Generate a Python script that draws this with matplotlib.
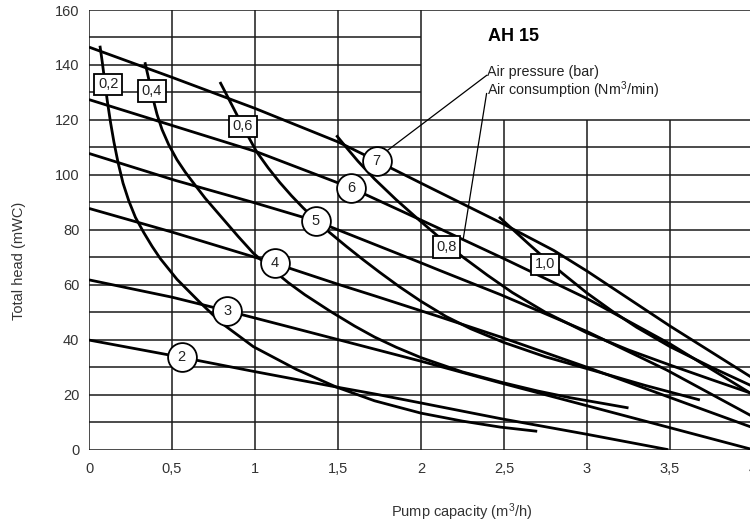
import numpy as np
import matplotlib
matplotlib.use("Agg")
import matplotlib.pyplot as plt

plt.rcParams['font.family'] = ['Liberation Sans', 'DejaVu Sans']
plt.rcParams['mathtext.fontset'] = 'custom'
plt.rcParams['mathtext.rm'] = 'Liberation Sans'
plt.rcParams['mathtext.it'] = 'Liberation Sans'

# ---------------------------------------------------------
# DATA
# ---------------------------------------------------------

# air pressure lines (bar)
p2_x = [0, 0.56, 1.0, 1.5, 1.72, 2.0, 2.48, 3.0, 3.49]
p2_y = [39.9, 33.6, 28.4, 22.7, 20.3, 17.0, 11.3, 5.6, 0]
p3_x = [0, 0.5, 0.835, 1.25, 1.72, 2.0, 2.48, 3.0, 3.5, 4.0]
p3_y = [61.8, 55.5, 50.5, 44.0, 36.6, 32.2, 24.3, 16.0, 8.0, 0]
p4_x = [0, 0.5, 0.99, 1.12, 1.5, 1.72, 2.11, 2.48, 3.0, 3.5, 4.0]
p4_y = [87.8, 79.2, 70.2, 67.8, 60.2, 56.0, 48.4, 41.0, 30.0, 19.0, 8.0]
p5_x = [0, 0.52, 1.0, 1.367, 1.5, 2.0, 2.11, 2.48, 3.0, 3.48, 4.0]
p5_y = [107.8, 98.0, 89.8, 83.2, 80.0, 68.0, 65.3, 56.4, 43.0, 29.0, 12.0]
p6_x = [0, 0.5, 1.01, 1.578, 2.11, 2.5, 3.0, 3.5, 4.0]
p6_y = [127.4, 118.0, 108.4, 95.3, 80.5, 69.5, 55.0, 38.5, 20.0]
p7_x = [0, 0.5, 1.0, 1.5, 1.733, 2.0, 2.5, 2.8, 3.0, 3.25, 3.5, 3.75, 4.0]
p7_y = [146.5, 135.5, 124.2, 112.0, 105.1, 97.0, 82.0, 72.5, 65.0, 55.0, 45.0, 35.5, 26.0]

# air consumption curves (Nm3/min)
c02_x = [0.066, 0.08, 0.095, 0.11, 0.13, 0.15, 0.175, 0.205, 0.24, 0.28, 0.33, 0.38,
         0.43, 0.53, 0.67, 0.8, 0.99, 1.25, 1.49, 1.72, 2.0, 2.25, 2.48, 2.70]
c02_y = [147, 141, 134, 127, 119, 112, 104.5, 97, 90.5, 84.5, 79, 74,
         69.5, 62, 53.5, 46, 37.5, 29.2, 22.8, 17.8, 13.3, 10.4, 8.2, 6.7]
c04_x = [0.337, 0.35, 0.365, 0.38, 0.395, 0.41, 0.44, 0.48, 0.53, 0.58, 0.62, 0.7,
         0.8, 0.9, 0.99, 1.1, 1.2, 1.3, 1.45, 1.6, 1.72, 1.85, 2.0, 2.25, 2.48, 2.7,
         2.9, 3.1, 3.25]
c04_y = [141, 137.5, 133.5, 129.5, 125.5, 122, 116.5, 111, 105.5, 101, 97.8, 91.5,
         84.5, 77.5, 71.5, 65.8, 60.8, 56.4, 50.5, 45, 41, 37.3, 33.5, 28.3, 24.6, 21.4,
         18.9, 16.8, 15.2]
c06_x = [0.789, 0.82, 0.86, 0.9, 0.95, 1.01, 1.08, 1.15, 1.22, 1.29, 1.367, 1.45,
         1.55, 1.65, 1.75, 1.87, 2.0, 2.15, 2.3, 2.5, 2.75, 3.04, 3.35, 3.68]
c06_y = [133.8, 130.2, 125.5, 120.8, 115, 108.4, 102.5, 97.2, 92.4, 88, 83.5, 79,
         74, 69.2, 64.6, 59.3, 54, 48.5, 44, 39, 33.8, 28.8, 23.4, 18.1]
c08_x = [1.49, 1.55, 1.62, 1.72, 1.85, 1.99, 2.154, 2.25, 2.4, 2.55, 2.75, 3.0,
         3.25, 3.5, 3.75, 4.0]
c08_y = [114.4, 110, 105, 98.5, 91, 83.5, 75, 70.2, 63.5, 57.2, 50, 42.5,
         36.3, 30.8, 25.5, 20.3]
c10_x = [2.47, 2.55, 2.65, 2.747, 2.85, 3.0, 3.15, 3.3, 3.5, 3.75, 4.0]
c10_y = [84.7, 80.3, 74.8, 69.6, 64.3, 57, 50.5, 44.5, 37.5, 30, 23]

pressure_labels = ["2", "3", "4", "5", "6", "7"]
pressure_lab_x = [0.558, 0.834, 1.12, 1.367, 1.578, 1.733]
pressure_lab_y = [33.6, 50.5, 67.8, 83.2, 95.3, 105.1]

consumption_labels = ["0,2", "0,4", "0,6", "0,8", "1,0"]
consumption_lab_x = [0.116, 0.378, 0.926, 2.154, 2.747]
consumption_lab_y = [133.0, 130.5, 117.7, 73.8, 67.5]

x_ticks = [0, 0.5, 1, 1.5, 2, 2.5, 3, 3.5, 4]
x_ticklabels = ["0", "0,5", "1", "1,5", "2", "2,5", "3", "3,5", "4"]
y_ticks = [0, 20, 40, 60, 80, 100, 120, 140, 160]

# ---------------------------------------------------------
# PLOT
# ---------------------------------------------------------

fig = plt.figure(figsize=(7.5, 5.28), dpi=100)
ax = fig.add_axes([89 / 750, (528 - 449.7) / 528, (753 - 89) / 750, (449.7 - 10) / 528])
ax.set_xlim(0, 4)
ax.set_ylim(0, 160)
for s in ax.spines.values():
    s.set_visible(False)

grid_kw = dict(color="#1a1a1a", lw=1.1, zorder=1)
# the top right corner is left open for the title block
ax.vlines([0, 0.5, 1, 1.5, 2], 0, 160, **grid_kw)
ax.vlines([2.5, 3, 3.5, 4], 0, 120, **grid_kw)
ax.hlines(list(range(0, 130, 10)) + [160], 0, 4, **grid_kw)
ax.hlines([130, 140, 150], 0, 2, **grid_kw)

curve_kw = dict(color="black", lw=2.0, zorder=3, solid_capstyle="butt",
                solid_joinstyle="round")
for xs, ys in [(p2_x, p2_y), (p3_x, p3_y), (p4_x, p4_y), (p5_x, p5_y),
               (p6_x, p6_y), (p7_x, p7_y), (c02_x, c02_y), (c04_x, c04_y),
               (c06_x, c06_y), (c08_x, c08_y), (c10_x, c10_y)]:
    ax.plot(xs, ys, **curve_kw)

# leader lines from the legend text
ax.plot([2.395, 1.80], [136.2, 109.0], color="black", lw=0.9, zorder=4)
ax.plot([2.395, 2.255], [129.6, 76.9], color="black", lw=0.9, zorder=4)

ax.scatter(pressure_lab_x, pressure_lab_y, s=430, facecolor="white",
           edgecolor="black", linewidth=1.3, zorder=5)
for lab, x, y in zip(pressure_labels, pressure_lab_x, pressure_lab_y):
    ax.text(x, y, lab, ha="center", va="center", fontsize=10.5, color="#222", zorder=6)

for lab, x, y in zip(consumption_labels, consumption_lab_x, consumption_lab_y):
    ax.text(x, y, lab, ha="center", va="center", fontsize=10.5, color="#222", zorder=6,
            bbox=dict(boxstyle="square,pad=0.25", facecolor="white",
                      edgecolor="black", linewidth=1.3))

ax.text(2.404, 150.4, "AH 15", fontsize=13, fontweight="bold", ha="left", va="center")
ax.text(2.40, 137.5, "Air pressure (bar)", fontsize=10.3, ha="left", va="center", color="#222")
ax.text(2.40, 130.8, "Air consumption (Nm$^3$/min)", fontsize=10.3, ha="left", va="center",
        color="#222")

ax.set_xticks(x_ticks)
ax.set_xticklabels(x_ticklabels)
ax.set_yticks(y_ticks)
ax.tick_params(length=0, labelsize=10.5, labelcolor="#333")
ax.tick_params(axis="x", pad=9)
ax.tick_params(axis="y", pad=7)

fig.text(19 / 750, 1 - 261 / 528, "Total head (mWC)", rotation=90, ha="center", va="center",
         fontsize=10.5, color="#333")
fig.text(462 / 750, 1 - 512 / 528, "Pump capacity (m$^3$/h)", ha="center", va="center",
         fontsize=10.5, color="#333")

fig.savefig("out.png", dpi=100)
